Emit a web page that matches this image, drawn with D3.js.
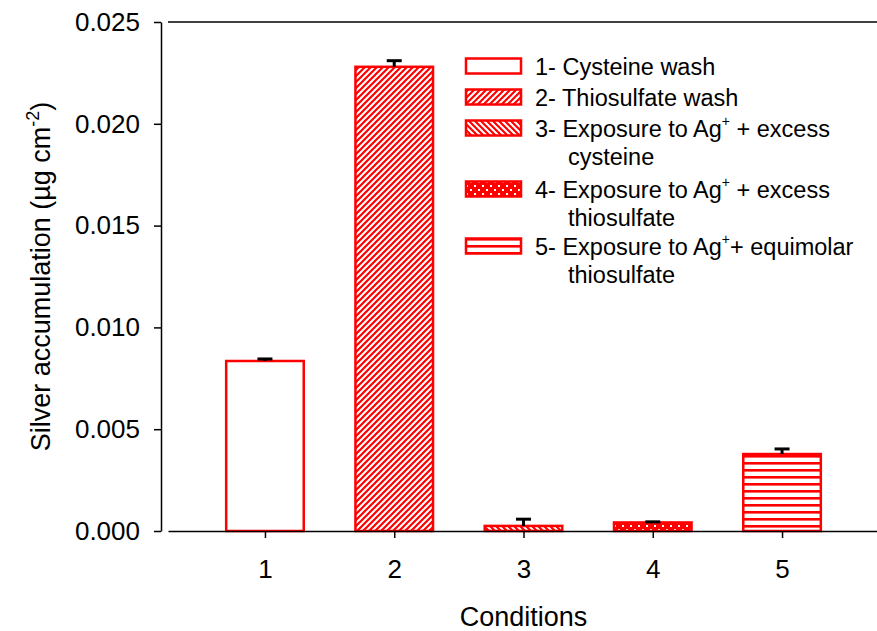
<!DOCTYPE html>
<html lang="en">
<head>
<meta charset="UTF-8">
<title>Silver accumulation by condition</title>
<script src="https://d3js.org/d3.v7.min.js"></script>
<style>
    body { margin: 0; background: #fff; }
    text { font-family: "Liberation Sans", Arial, sans-serif; fill: #000; }
    .axis path, .axis line { stroke: #000; stroke-width: 1.5; }
    .axis text { font-size: 26px; }
</style>
</head>
<body>
<svg width="877" height="631"></svg>
<script>
    // values
    const conditions = [1, 2, 3, 4, 5];
    const means      = [0.00835, 0.02280, 0.00025, 0.00042, 0.00378];
    const errors     = [0.00010, 0.00030, 0.00033, 0.00003, 0.00025];
    const fills      = ["white", "url(#diagUp)", "url(#diagDown)", "url(#dots)", "url(#hlines)"];
    const yTicks     = [0, 0.005, 0.010, 0.015, 0.020, 0.025];
    const legendLines = [
        [["1- Cysteine wash"]],
        [["2- Thiosulfate wash"]],
        [["3- Exposure to Ag", "+", " + excess"], ["cysteine"]],
        [["4- Exposure to Ag", "+", " + excess"], ["thiosulfate"]],
        [["5- Exposure to Ag", "+", "+ equimolar"], ["thiosulfate"]]
    ];
    const legendRowY = [66, 97, 128, 189, 246];

    const svg = d3.select("svg");
    const red = "#ff0000";

    // patterns
    const defs = svg.append("defs");
    const pat = (id, w, h, bg) => {
        const p = defs.append("pattern").attr("id", id)
            .attr("patternUnits", "userSpaceOnUse")
            .attr("width", w).attr("height", h);
        p.append("rect").attr("width", w).attr("height", h).attr("fill", bg);
        return p;
    };
    pat("diagUp", 6, 6, "white").append("path")
        .attr("d", "M-1,1 l2,-2 M0,6 l6,-6 M5,7 l2,-2")
        .attr("stroke", red).attr("stroke-width", 2.2);
    pat("diagDown", 6, 6, "white").append("path")
        .attr("d", "M-1,5 l2,2 M0,0 l6,6 M5,-1 l2,2")
        .attr("stroke", red).attr("stroke-width", 2.2);
    const dp = pat("dots", 8, 8, red);
    dp.append("rect").attr("x", 2).attr("y", 1).attr("width", 2).attr("height", 2).attr("fill", "white");
    dp.append("rect").attr("x", 6).attr("y", 5).attr("width", 2).attr("height", 2).attr("fill", "white");
    pat("hlines", 8, 7, "white").append("rect")
        .attr("y", 0).attr("width", 8).attr("height", 2.6).attr("fill", red);

    const x = d3.scaleLinear().domain([0.25, 5.75]).range([168, 879]);
    const y = d3.scaleLinear().domain([0, 0.025]).range([531, 22]);
    const barW = x(1.3) - x(0.7);

    // top frame line
    svg.append("line")
        .attr("x1", x(0.25)).attr("x2", x(5.75))
        .attr("y1", y(0.025)).attr("y2", y(0.025))
        .attr("stroke", "#000").attr("stroke-width", 1.5);

    // bars
    svg.selectAll("rect.bar")
        .data(conditions)
        .join("rect").attr("class", "bar")
          .attr("x", (d) => x(d) - barW / 2)
          .attr("y", (d, i) => y(means[i]))
          .attr("width", barW)
          .attr("height", (d, i) => y(0) - y(means[i]))
          .attr("fill", (d, i) => fills[i])
          .attr("stroke", red).attr("stroke-width", 2.5);

    // error bars (upper only)
    const eb = svg.selectAll("g.err").data(conditions).join("g").attr("class", "err");
    eb.append("line")
        .attr("x1", (d) => x(d)).attr("x2", (d) => x(d))
        .attr("y1", (d, i) => y(means[i])).attr("y2", (d, i) => y(means[i] + errors[i]))
        .attr("stroke", "#000").attr("stroke-width", 3);
    eb.append("line")
        .attr("x1", (d) => x(d) - 7.5).attr("x2", (d) => x(d) + 7.5)
        .attr("y1", (d, i) => y(means[i] + errors[i])).attr("y2", (d, i) => y(means[i] + errors[i]))
        .attr("stroke", "#000").attr("stroke-width", 3);

    // axes
    svg.append("g").attr("class", "axis")
        .attr("transform", "translate(0," + y(0) + ")")
        .call(d3.axisBottom(x).tickValues(conditions).tickFormat(d3.format("d"))
              .tickSize(7).tickPadding(22).tickSizeOuter(0));

    svg.append("g").attr("class", "axis")
        .attr("transform", "translate(161,0)")
        .call(d3.axisLeft(y).tickValues(yTicks).tickFormat(d3.format(".3f"))
              .tickSize(7).tickPadding(14).tickSizeOuter(0));

    // axis titles
    svg.append("text")
        .attr("x", (x(1) + x(5)) / 2).attr("y", 626)
        .attr("text-anchor", "middle").style("font-size", "27px")
        .text("Conditions");

    const yt = svg.append("text")
        .attr("transform", "translate(50," + (y(0.0125)) + ") rotate(-90)")
        .attr("text-anchor", "middle").style("font-size", "27px");
    yt.append("tspan").text("Silver accumulation (\u00b5g cm");
    yt.append("tspan").attr("dy", -11).style("font-size", "18px").text("-2");
    yt.append("tspan").attr("dy", 11).text(")");

    // legend
    const lg = svg.append("g");
    legendLines.forEach((lines, i) => {
        const cy = legendRowY[i];
        lg.append("rect")
            .attr("x", 466).attr("y", cy - 7.5).attr("width", 55).attr("height", 15)
            .attr("fill", fills[i]).attr("stroke", red).attr("stroke-width", 2.5);
        lines.forEach((parts, j) => {
            const t = lg.append("text")
                .attr("x", j === 0 ? 535 : 568)
                .attr("y", cy + 9 + j * 28)
                .style("font-size", "23.5px");
            t.append("tspan").text(parts[0]);
            if (parts.length > 1) {
                t.append("tspan").attr("dy", -11).style("font-size", "14px").text(parts[1]);
                t.append("tspan").attr("dy", 11).text(parts[2]);
            }
        });
    });
</script>
</body>
</html>
